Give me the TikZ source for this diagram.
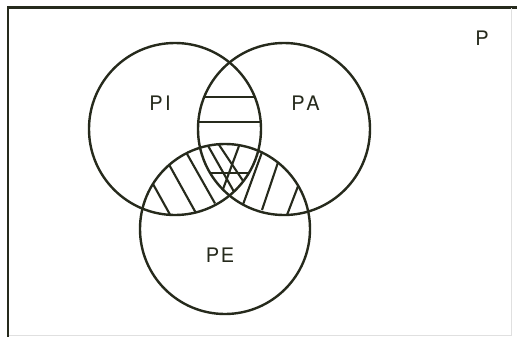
\documentclass[tikz,border=0pt]{standalone}
\usepackage{fontspec}
\setmainfont{TeX Gyre Heros}
\definecolor{ink}{RGB}{38,42,28}
\begin{document}
\begin{tikzpicture}[x=1pt,y=-1pt,
  ring/.style={draw=ink,line width=2.4pt,circle,inner sep=0pt},
  hatch/.style={draw=ink,line width=2.1pt},
  lbl/.style={text=ink,font=\fontsize{20}{24}\selectfont,inner sep=0pt}]
\useasboundingbox (0,0) rectangle (517,337);
\fill[white] (0,0) rectangle (517,337);
% frame
\draw[ink,line width=2.4pt] (8,337) -- (8,7.5) -- (517,7.5);
\draw[black!12,line width=1pt] (511,8) -- (511,335) -- (9,335);
% hatching PI cap PA (horizontal)
\begin{scope}
  \clip (175,129) circle (86pt);
  \clip (284,129) circle (86pt);
  \draw[hatch] (150,97) -- (310,97);
  \draw[hatch] (150,122) -- (310,122);
  \draw[hatch] (150,173) -- (310,173);
\end{scope}
% hatching PI cap PE
\begin{scope}
  \clip (175,129) circle (86pt);
  \clip (225,229) circle (85pt);
  \draw[hatch] (129.5,141.7) -- (179.5,231.7);
  \draw[hatch] (148,126.7) -- (198,216.7);
  \draw[hatch] (165,115) -- (215,203.4);
  \draw[hatch] (185,105) -- (235,193.5);
  \draw[hatch] (198,113.3) -- (248,188.3);
\end{scope}
% hatching PA cap PE
\begin{scope}
  \clip (284,129) circle (86pt);
  \clip (225,229) circle (85pt);
  \draw[hatch] (256,100) -- (219,200);
  \draw[hatch] (281,100) -- (241,210);
  \draw[hatch] (299,100) -- (262,210);
  \draw[hatch] (331,100) -- (287,215);
\end{scope}
% circles
\node[ring,minimum size=172pt] (PI) at (175,129) {};
\node[ring,minimum size=172pt] (PA) at (284,129) {};
\node[ring,minimum size=170pt] (PE) at (225,229) {};
% labels
\node[lbl] (lPI) at (160,103) {P\kern2.5pt I};
\node[lbl] (lPA) at (305.5,103) {P\kern1.5pt A};
\node[lbl] (lPE) at (220,255) {P\kern1.5pt E};
\node[lbl] (lP) at (482,38) {P};
\end{tikzpicture}
\end{document}
